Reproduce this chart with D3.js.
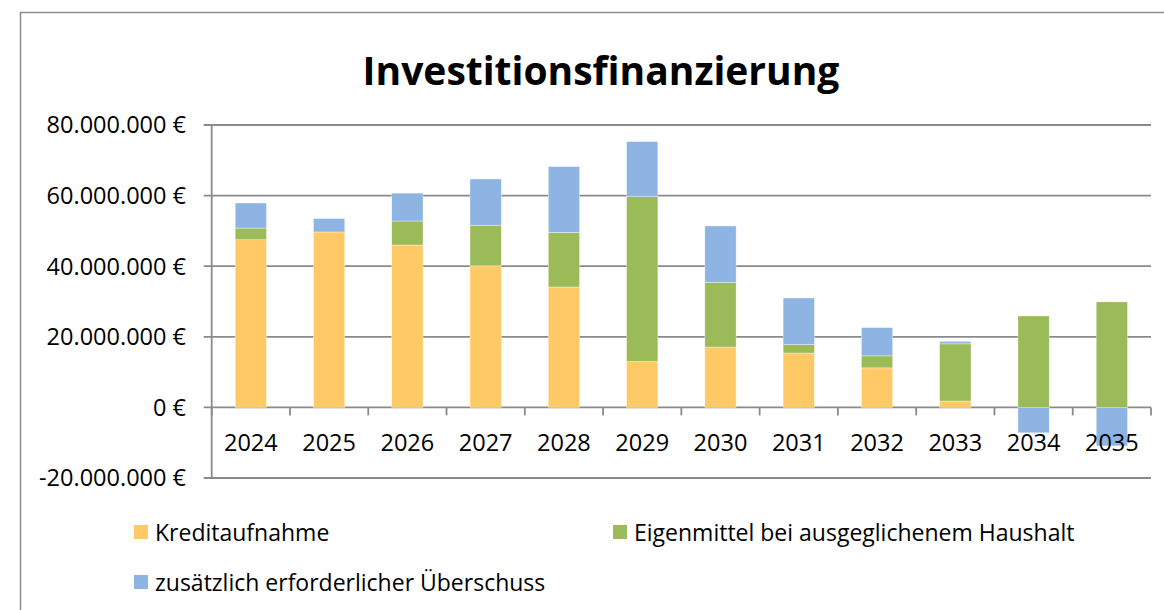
<!DOCTYPE html>
<html>
<head>
<meta charset="utf-8">
<script src="https://cdn.jsdelivr.net/npm/d3@7"></script>
<style>
  body { margin: 0; background: #fff; }
  text { font-family: "Open Sans", sans-serif; fill: #000; }
</style>
</head>
<body>
<div id="chart"></div>
<script>
// Data (values in euro)
const years = ["2024", "2025", "2026", "2027", "2028", "2029", "2030", "2031", "2032", "2033", "2034", "2035"];
const kreditaufnahme = [47.5e6, 49.7e6, 46.0e6, 40.1e6, 34.1e6, 13.0e6, 17.1e6, 15.4e6, 11.2e6, 1.8e6, 0, 0];
const eigenmittel = [3.3e6, 0, 6.8e6, 11.5e6, 15.5e6, 46.7e6, 18.3e6, 2.4e6, 3.4e6, 16.2e6, 25.9e6, 29.9e6];
const ueberschuss = [7.1e6, 3.8e6, 7.9e6, 13.1e6, 18.6e6, 15.6e6, 16.0e6, 13.2e6, 8.0e6, 0.7e6, -7.2e6, -10.9e6];
const seriesNames = ["Kreditaufnahme", "Eigenmittel bei ausgeglichenem Haushalt", "zusätzlich erforderlicher Überschuss"];
const yTicks = [-20e6, 0, 20e6, 40e6, 60e6, 80e6];

const colors = ["#FFCA66", "#9BBB59", "#8EB4E3"];
const gridColor = "#8a8a8a";

const width = 1164, height = 610;
const plot = { left: 211.7, right: 1151, top: 125, bottom: 478 };

const svg = d3.select("#chart")
    .append("svg")
    .attr("width", width)
    .attr("height", height);

// Outer chart frame (runs off the right and bottom edge)
svg.append("rect")
    .attr("x", 20.5).attr("y", 12.5)
    .attr("width", 1200).attr("height", 700)
    .attr("fill", "#fff")
    .attr("stroke", "#8c8c8c")
    .attr("stroke-width", 1.5);

// Title
svg.append("text")
    .attr("x", 601)
    .attr("y", 85)
    .attr("text-anchor", "middle")
    .style("font-size", "39px")
    .style("font-weight", "700")
    .text("Investitionsfinanzierung");

// German number format
const de = d3.formatLocale({
    decimal: ",", thousands: ".", grouping: [3], currency: ["", " €"], minus: "-"
});
const fmt = de.format("$,.0f");

// Scales
const x = d3.scaleBand()
    .domain(years)
    .range([plot.left, plot.right])
    .paddingInner(0.6)
    .paddingOuter(0.3);
const step = x.step();

const y = d3.scaleLinear()
    .domain([-20e6, 80e6])
    .range([plot.bottom, plot.top]);

// Gridlines
svg.append("g")
    .selectAll("line")
    .data(yTicks)
    .enter()
    .append("line")
    .attr("x1", plot.left - 8)
    .attr("x2", plot.right)
    .attr("y1", d => y(d))
    .attr("y2", d => y(d))
    .attr("stroke", gridColor)
    .attr("stroke-width", 1.8);

// Y axis line
svg.append("line")
    .attr("x1", plot.left).attr("x2", plot.left)
    .attr("y1", y(80e6)).attr("y2", y(-20e6))
    .attr("stroke", gridColor)
    .attr("stroke-width", 1.8);

// Y labels
svg.append("g")
    .selectAll("text")
    .data(yTicks)
    .enter()
    .append("text")
    .attr("x", 186)
    .attr("y", d => y(d))
    .attr("dy", "0.36em")
    .attr("text-anchor", "end")
    .style("font-size", "23.5px")
    .text(d => fmt(d));

// Stacked bars
const table = years.map((yr, i) => ({
    year: yr, k: kreditaufnahme[i], e: eigenmittel[i], u: ueberschuss[i]
}));
const stacked = d3.stack()
    .keys(["k", "e", "u"])
    .offset(d3.stackOffsetDiverging)(table);

svg.append("g")
    .selectAll("g")
    .data(stacked)
    .enter()
    .append("g")
    .attr("fill", (d, i) => colors[i])
    .selectAll("rect")
    .data(d => d.filter(s => s[1] !== s[0]))
    .enter()
    .append("rect")
    .attr("x", d => x(d.data.year))
    .attr("width", x.bandwidth())
    .attr("y", d => y(Math.max(d[0], d[1])))
    .attr("height", d => Math.abs(y(d[0]) - y(d[1])))
    .attr("stroke", "#fff")
    .attr("stroke-opacity", 0.6)
    .attr("stroke-width", 0.6);

// X axis tick marks at category boundaries
svg.append("g")
    .selectAll("line")
    .data(d3.range(years.length + 1))
    .enter()
    .append("line")
    .attr("x1", i => plot.left + i * step)
    .attr("x2", i => plot.left + i * step)
    .attr("y1", y(0))
    .attr("y2", y(0) + 8)
    .attr("stroke", gridColor)
    .attr("stroke-width", 1.8);

// Category labels
svg.append("g")
    .selectAll("text")
    .data(years)
    .enter()
    .append("text")
    .attr("x", d => x(d) + x.bandwidth() / 2)
    .attr("y", 451)
    .attr("text-anchor", "middle")
    .style("font-size", "23.5px")
    .text(d => d);

// Legend
const legendPos = [
    { x: 134, y: 525 },
    { x: 613, y: 525 },
    { x: 134, y: 575 }
];
const legend = svg.append("g")
    .selectAll("g")
    .data(seriesNames)
    .enter()
    .append("g")
    .attr("transform", (d, i) => `translate(${legendPos[i].x},${legendPos[i].y})`);
legend.append("rect")
    .attr("width", 14)
    .attr("height", 14)
    .attr("fill", (d, i) => colors[i]);
legend.append("text")
    .attr("x", 21)
    .attr("y", 15.5)
    .style("font-size", "23px")
    .text(d => d);
</script>
</body>
</html>
